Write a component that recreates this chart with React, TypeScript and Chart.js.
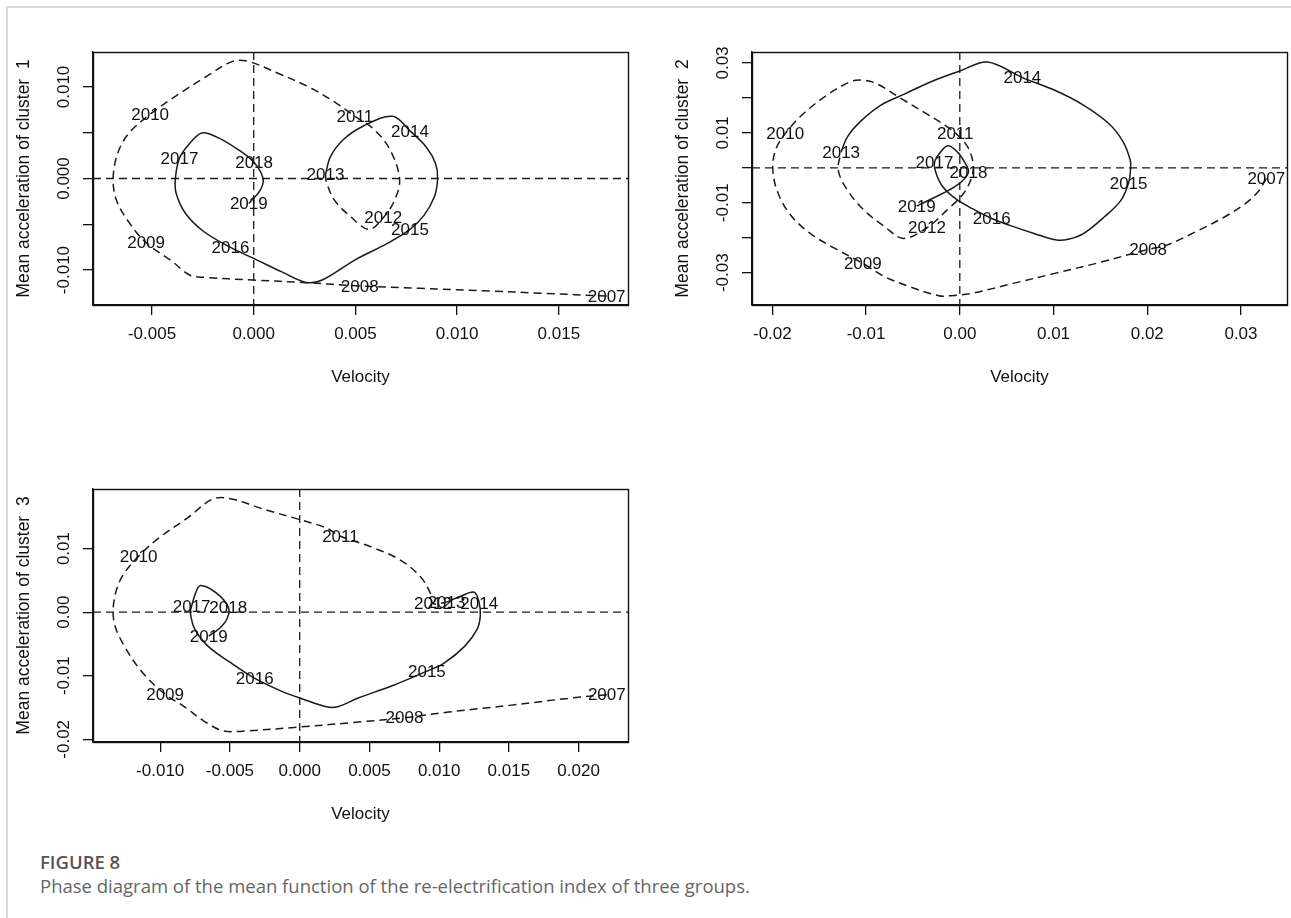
import React, { useEffect, useRef } from "react";
import { Chart, registerables } from "chart.js";

Chart.register(...registerables);

// ---------- shared ----------
const YEARS = ["2007", "2008", "2009", "2010", "2011", "2012", "2013", "2014", "2015", "2016", "2017", "2018", "2019"];

// ---------- cluster 1 ----------
const p1DashX = [0.01735, 0.01419, 0.01158, 0.00818, 0.00521, 0.00257, 0, -0.00244, -0.00315, -0.00405, -0.00529, -0.00615, -0.00675, -0.00691, -0.00669, -0.00615, -0.00509, -0.00365, -0.00224, -0.00104, -0.00028, 0.00116, 0.00277, 0.00397, 0.00497, 0.00587, 0.00667, 0.00717, 0.00693, 0.00637, 0.00567, 0.00477, 0.00397, 0.00357, 0.00353];
const p1DashY = [-0.01284, -0.01254, -0.01229, -0.012, -0.01174, -0.01138, -0.01109, -0.0108, -0.01054, -0.00898, -0.00702, -0.00473, -0.00236, 0, 0.00273, 0.00491, 0.00702, 0.00927, 0.01127, 0.0128, 0.0128, 0.01153, 0.00993, 0.00836, 0.0068, 0.00545, 0.00327, 0, -0.00236, -0.00429, -0.00556, -0.00418, -0.00236, -0.00036, 0.00047];
const p1SolidX = [0.00353, 0.00377, 0.00437, 0.00537, 0.00683, 0.00768, 0.00848, 0.00894, 0.00904, 0.00888, 0.00838, 0.00768, 0.00657, 0.00497, 0.00337, 0.00257, 0.00136, 0, -0.00114, -0.00244, -0.00335, -0.00381, -0.00385, -0.00365, -0.00315, -0.00255, -0.00184, -0.00084, 0.00002, 0.00046, 0.00032, -0.00024];
const p1SolidY = [0.00047, 0.00236, 0.00418, 0.00571, 0.0068, 0.0052, 0.00345, 0.00164, 0, -0.002, -0.004, -0.00556, -0.00709, -0.00891, -0.01109, -0.01135, -0.01018, -0.00873, -0.00753, -0.00582, -0.00382, -0.00164, 0, 0.00222, 0.00382, 0.00498, 0.00455, 0.00327, 0.00175, 0, -0.00127, -0.00273];
const p1YearX = [0.01735, 0.00521, -0.00529, -0.00509, 0.00497, 0.00637, 0.00353, 0.00768, 0.00768, -0.00114, -0.00365, 0.00002, -0.00024];
const p1YearY = [-0.01284, -0.01174, -0.00702, 0.00702, 0.0068, -0.00429, 0.00047, 0.0052, -0.00556, -0.00753, 0.00222, 0.00175, -0.00273];
const p1XRange = [-0.0079, 0.0184];
const p1YRange = [-0.01382, 0.01382];
const p1XTicks = [-0.005, 0, 0.005, 0.01, 0.015];
const p1XTickLabels = ["-0.005", "0.000", "0.005", "0.010", "0.015"];
const p1YTicks = [-0.01, -0.005, 0, 0.005, 0.01];
const p1YTickLabels = ["-0.010", "", "0.000", "", "0.010"];

// ---------- cluster 2 ----------
const p2DashX = [0.0327, 0.03182, 0.03049, 0.02828, 0.02518, 0.02208, 0.02009, 0.01456, 0.01013, 0.00571, 0.00128, -0.00093, -0.00226, -0.00535, -0.00801, -0.01035, -0.01332, -0.01597, -0.01819, -0.01951, -0.01996, -0.0196, -0.01863, -0.01686, -0.0142, -0.01155, -0.01022, -0.00889, -0.00624, -0.00358, -0.00159, -0.00049, 0.00084, 0.00142, 0.00128, 0.0004, -0.00137, -0.0035, -0.00602, -0.00801, -0.01022, -0.01199, -0.01297, -0.01266];
const p2DashY = [-0.00305, -0.00686, -0.01019, -0.014, -0.01829, -0.0221, -0.02333, -0.02733, -0.03019, -0.03305, -0.0359, -0.03657, -0.03657, -0.034, -0.03114, -0.02733, -0.02305, -0.01876, -0.01305, -0.00638, 0, 0.00552, 0.00981, 0.01505, 0.02076, 0.02476, 0.02505, 0.0241, 0.01981, 0.01552, 0.01219, 0.01, 0.006, 0.00124, -0.00257, -0.00733, -0.0121, -0.01714, -0.02019, -0.01686, -0.0121, -0.00638, -0.00067, 0.00457];
const p2SolidX = [-0.01266, -0.01199, -0.01066, -0.00845, -0.0058, -0.0027, 0, 0.00296, 0.00668, 0.01013, 0.01323, 0.01589, 0.01743, 0.01819, 0.01823, 0.01801, 0.01721, 0.01544, 0.01323, 0.01168, 0.01035, 0.00792, 0.00527, 0.00341, 0.00128, -0.00049, -0.00181, -0.00252, -0.0027, -0.00217, -0.00128, -0.00027, 0.00049, 0.00093, 0.00018, -0.00115, -0.00292, -0.0046];
const p2SolidY = [0.00457, 0.00886, 0.01314, 0.0179, 0.02124, 0.02505, 0.02771, 0.03029, 0.02581, 0.02219, 0.0179, 0.01267, 0.00743, 0.00219, 0, -0.00429, -0.00924, -0.014, -0.01876, -0.02038, -0.02067, -0.01876, -0.01638, -0.01448, -0.01162, -0.00876, -0.00543, -0.00162, 0.00152, 0.0041, 0.00629, 0.00457, 0.00171, -0.00114, -0.004, -0.00638, -0.00876, -0.01095];
const p2YearX = [0.0327, 0.02009, -0.01035, -0.01863, -0.00049, -0.0035, -0.01266, 0.00668, 0.01801, 0.00341, -0.0027, 0.00093, -0.0046];
const p2YearY = [-0.00305, -0.02333, -0.02733, 0.00981, 0.01, -0.01714, 0.00457, 0.02581, -0.00429, -0.01448, 0.00152, -0.00114, -0.01095];
const p2XRange = [-0.02217, 0.03491];
const p2YRange = [-0.03924, 0.03314];
const p2XTicks = [-0.02, -0.01, 0, 0.01, 0.02, 0.03];
const p2XTickLabels = ["-0.02", "-0.01", "0.00", "0.01", "0.02", "0.03"];
const p2YTicks = [-0.03, -0.02, -0.01, 0, 0.01, 0.02, 0.03];
const p2YTickLabels = ["-0.03", "", "-0.01", "", "0.01", "", "0.03"];

// ---------- cluster 3 ----------
const p3DashX = [0.02202, 0.01944, 0.01506, 0.01067, 0.00751, 0.00424, 0, -0.00395, -0.00547, -0.00687, -0.00833, -0.00965, -0.01126, -0.01257, -0.0133, -0.0133, -0.01272, -0.01155, -0.01009, -0.00804, -0.00623, -0.00488, -0.00249, 0, 0.0019, 0.00292, 0.00512, 0.00716, 0.00863, 0.00936, 0.00956, 0.01053];
const p3DashY = [-0.01298, -0.01351, -0.01466, -0.01571, -0.0166, -0.01728, -0.01806, -0.01869, -0.01869, -0.01712, -0.01477, -0.01293, -0.00953, -0.00534, -0.00168, 0.00199, 0.00565, 0.0088, 0.01168, 0.01482, 0.0178, 0.0178, 0.01613, 0.01456, 0.01325, 0.01194, 0.01026, 0.00827, 0.00565, 0.00304, 0.00136, 0.00157];
const p3SolidX = [0.01053, 0.01155, 0.01251, 0.01287, 0.01295, 0.01272, 0.01184, 0.01038, 0.00912, 0.00658, 0.00424, 0.00272, 0.0019, 0.00015, -0.00132, -0.00322, -0.00512, -0.00658, -0.00751, -0.00784, -0.00775, -0.00746, -0.00711, -0.00599, -0.00512, -0.00518, -0.0057, -0.00652];
const p3SolidY = [0.00157, 0.00251, 0.00314, 0.00147, -0.00063, -0.00272, -0.00534, -0.00796, -0.00927, -0.01162, -0.01346, -0.01487, -0.01487, -0.01361, -0.01241, -0.01042, -0.0077, -0.00534, -0.00272, -0.0001, 0.00094, 0.00304, 0.00419, 0.00304, 0.00084, -0.00089, -0.00246, -0.00377];
const p3YearX = [0.02202, 0.00751, -0.00965, -0.01155, 0.00292, 0.00956, 0.01053, 0.01287, 0.00912, -0.00322, -0.00775, -0.00512, -0.00652];
const p3YearY = [-0.01298, -0.0166, -0.01293, 0.0088, 0.01194, 0.00136, 0.00157, 0.00147, -0.00927, -0.01042, 0.00094, 0.00084, -0.00377];
const p3XRange = [-0.01482, 0.02354];
const p3YRange = [-0.02042, 0.01937];
const p3XTicks = [-0.01, -0.005, 0, 0.005, 0.01, 0.015, 0.02];
const p3XTickLabels = ["-0.010", "-0.005", "0.000", "0.005", "0.010", "0.015", "0.020"];
const p3YTicks = [-0.02, -0.01, 0, 0.01];
const p3YTickLabels = ["-0.02", "-0.01", "0.00", "0.01"];

const X_TITLE = "Velocity";
const Y_TITLES = ["Mean acceleration of cluster  1", "Mean acceleration of cluster  2", "Mean acceleration of cluster  3"];

// ---------- styling / layout ----------
const FONT = "'Liberation Sans', Arial, Helvetica, sans-serif";
const LINE_COLOR = "#1a1a1a";
const DASH = [8, 5];

type Spec = {
  dashX: number[]; dashY: number[]; solidX: number[]; solidY: number[];
  yearX: number[]; yearY: number[];
  xRange: number[]; yRange: number[];
  xTicks: number[]; xTickLabels: string[]; yTicks: number[]; yTickLabels: string[];
  yTitle: string;
};
type Box = { left: number; top: number; w: number; h: number; padTop: number; padRight: number; yWidth: number; xHeight: number };

const SPECS: Spec[] = [
  { dashX: p1DashX, dashY: p1DashY, solidX: p1SolidX, solidY: p1SolidY, yearX: p1YearX, yearY: p1YearY, xRange: p1XRange, yRange: p1YRange, xTicks: p1XTicks, xTickLabels: p1XTickLabels, yTicks: p1YTicks, yTickLabels: p1YTickLabels, yTitle: Y_TITLES[0] },
  { dashX: p2DashX, dashY: p2DashY, solidX: p2SolidX, solidY: p2SolidY, yearX: p2YearX, yearY: p2YearY, xRange: p2XRange, yRange: p2YRange, xTicks: p2XTicks, xTickLabels: p2XTickLabels, yTicks: p2YTicks, yTickLabels: p2YTickLabels, yTitle: Y_TITLES[1] },
  { dashX: p3DashX, dashY: p3DashY, solidX: p3SolidX, solidY: p3SolidY, yearX: p3YearX, yearY: p3YearY, xRange: p3XRange, yRange: p3YRange, xTicks: p3XTicks, xTickLabels: p3XTickLabels, yTicks: p3YTicks, yTickLabels: p3YTickLabels, yTitle: Y_TITLES[2] },
];

const BOXES: Box[] = [
  { left: 0, top: 0, w: 645, h: 400, padTop: 52, padRight: 17, yWidth: 93, xHeight: 95 },
  { left: 645, top: 0, w: 646, h: 400, padTop: 52, padRight: 4, yWidth: 107, xHeight: 95 },
  { left: 0, top: 440, w: 645, h: 400, padTop: 49, padRight: 17, yWidth: 93, xHeight: 98 },
];

const toPts = (xs: number[], ys: number[]) => xs.map((x, i) => ({ x, y: ys[i] }));

function Panel({ spec, box }: { spec: Spec; box: Box }) {
  const ref = useRef<HTMLCanvasElement>(null);

  useEffect(() => {
    const canvas = ref.current;
    if (!canvas) return;

    const rPlugin = {
      id: "rStyle",
      beforeDatasetsDraw(chart: any) {
        const { ctx, chartArea: a, scales } = chart;
        const x0 = scales.x.getPixelForValue(0);
        const y0 = scales.y.getPixelForValue(0);
        ctx.save();
        ctx.strokeStyle = LINE_COLOR;
        ctx.lineWidth = 1.3;
        ctx.setLineDash(DASH);
        ctx.beginPath();
        ctx.moveTo(a.left, y0);
        ctx.lineTo(a.right, y0);
        ctx.moveTo(x0, a.top);
        ctx.lineTo(x0, a.bottom);
        ctx.stroke();
        ctx.restore();
      },
      afterDatasetsDraw(chart: any) {
        const { ctx } = chart;
        const meta = chart.getDatasetMeta(2);
        ctx.save();
        ctx.fillStyle = "#111";
        ctx.font = `17px ${FONT}`;
        ctx.textAlign = "center";
        ctx.textBaseline = "middle";
        meta.data.forEach((el: any, i: number) => {
          ctx.fillText(YEARS[i], el.x, el.y + 1);
        });
        ctx.restore();
      },
      afterDraw(chart: any) {
        const { ctx, chartArea: a, scales } = chart;
        ctx.save();
        // plot box
        ctx.strokeStyle = "#111";
        ctx.lineWidth = 1.4;
        ctx.strokeRect(Math.round(a.left) + 0.5, Math.round(a.top) + 0.5, Math.round(a.right - a.left), Math.round(a.bottom - a.top));
        ctx.fillStyle = "#111";
        // y tick labels (parallel to axis, as in R)
        ctx.font = `17px ${FONT}`;
        ctx.textAlign = "center";
        ctx.textBaseline = "middle";
        spec.yTicks.forEach((v, i) => {
          const lab = spec.yTickLabels[i];
          if (!lab) return;
          const py = scales.y.getPixelForValue(v);
          ctx.save();
          ctx.translate(a.left - 29, py);
          ctx.rotate(-Math.PI / 2);
          ctx.fillText(lab, 0, 0);
          ctx.restore();
        });
        // y title
        ctx.save();
        ctx.translate(a.left - 69, (a.top + a.bottom) / 2);
        ctx.rotate(-Math.PI / 2);
        ctx.font = `17.5px ${FONT}`;
        ctx.fillText(spec.yTitle, 0, 0);
        ctx.restore();
        // x title
        ctx.font = `17px ${FONT}`;
        ctx.fillText(X_TITLE, (a.left + a.right) / 2, a.bottom + 72);
        ctx.restore();
      },
    };

    const chart = new Chart(canvas, {
      type: "scatter",
      data: {
        datasets: [
          {
            data: toPts(spec.dashX, spec.dashY),
            showLine: true,
            borderColor: LINE_COLOR,
            borderWidth: 1.5,
            borderDash: DASH,
            pointRadius: 0,
            tension: 0.35,
            fill: false,
          },
          {
            data: toPts(spec.solidX, spec.solidY),
            showLine: true,
            borderColor: LINE_COLOR,
            borderWidth: 1.5,
            pointRadius: 0,
            tension: 0.35,
            fill: false,
          },
          {
            data: toPts(spec.yearX, spec.yearY),
            showLine: false,
            pointRadius: 0,
            pointHoverRadius: 0,
          },
        ],
      },
      options: {
        animation: false,
        responsive: false,
        devicePixelRatio: 1,
        events: [],
        layout: { padding: { left: 0, top: box.padTop, right: box.padRight, bottom: 0 } },
        plugins: { legend: { display: false }, tooltip: { enabled: false }, title: { display: false } },
        scales: {
          x: {
            type: "linear",
            position: "bottom",
            min: spec.xRange[0],
            max: spec.xRange[1],
            afterBuildTicks: (s: any) => {
              s.ticks = spec.xTicks.map((v) => ({ value: v }));
            },
            afterFit: (s: any) => {
              s.height = box.xHeight;
            },
            ticks: {
              autoSkip: false,
              maxRotation: 0,
              minRotation: 0,
              padding: 9,
              color: "#111",
              font: { family: FONT, size: 17 },
              callback: (_v: any, i: number) => spec.xTickLabels[i],
            },
            grid: { display: true, drawOnChartArea: false, drawTicks: true, tickLength: 10, color: "#111", lineWidth: 1.3 },
            border: { display: true, color: "#111", width: 1.4 },
          },
          y: {
            type: "linear",
            position: "left",
            min: spec.yRange[0],
            max: spec.yRange[1],
            afterBuildTicks: (s: any) => {
              s.ticks = spec.yTicks.map((v) => ({ value: v }));
            },
            afterFit: (s: any) => {
              s.width = box.yWidth;
            },
            ticks: { display: false, autoSkip: false },
            grid: { display: true, drawOnChartArea: false, drawTicks: true, tickLength: 10, color: "#111", lineWidth: 1.3 },
            border: { display: true, color: "#111", width: 1.4 },
          },
        },
      },
      plugins: [rPlugin],
    } as any);

    return () => chart.destroy();
  }, [spec, box]);

  return (
    <canvas
      ref={ref}
      width={box.w}
      height={box.h}
      style={{ position: "absolute", left: box.left, top: box.top, width: box.w, height: box.h }}
    />
  );
}

export default function App() {
  return (
    <div style={{ position: "absolute", left: 0, top: 0, width: 1291, height: 918, background: "#fff", overflow: "hidden" }}>
      <div
        style={{
          position: "absolute",
          left: 6,
          top: 6,
          width: 1290,
          height: 920,
          borderTop: "2px solid #d9d9d9",
          borderLeft: "2px solid #d9d9d9",
        }}
      />
      {SPECS.map((s, i) => (
        <Panel key={i} spec={s} box={BOXES[i]} />
      ))}
      <div
        style={{
          position: "absolute",
          left: 40,
          top: 850,
          fontFamily: "'Open Sans', 'Noto Sans', sans-serif",
          fontWeight: 600,
          fontSize: 18.5,
          lineHeight: "24px",
          color: "#555",
          whiteSpace: "nowrap",
        }}
      >
        FIGURE 8
      </div>
      <div
        style={{
          position: "absolute",
          left: 40,
          top: 874,
          fontFamily: "'Open Sans', 'Noto Sans', sans-serif",
          fontWeight: 400,
          fontSize: 18.5,
          lineHeight: "24px",
          color: "#666",
          whiteSpace: "nowrap",
        }}
      >
        Phase diagram of the mean function of the re-electrification index of three groups.
      </div>
    </div>
  );
}
